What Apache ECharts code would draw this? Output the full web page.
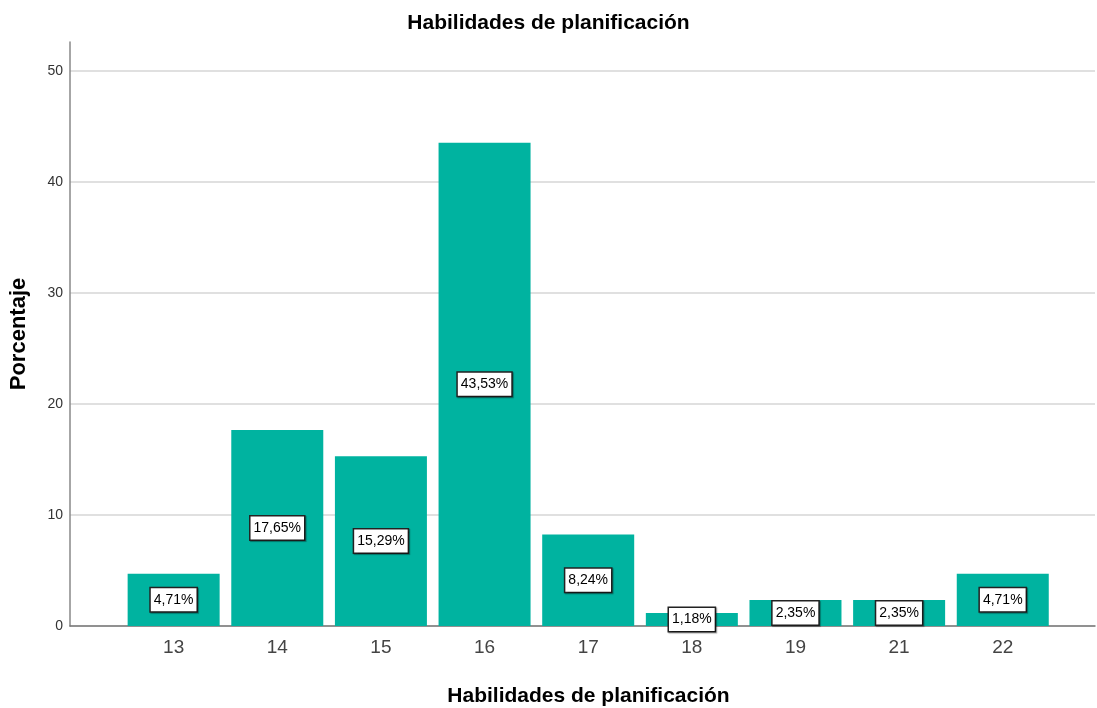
<!DOCTYPE html>
<html>
<head>
<meta charset="utf-8">
<script src="https://cdn.jsdelivr.net/npm/echarts@6/dist/echarts.min.js"></script>
<style>html,body{margin:0;padding:0;background:#fff}#c{width:1097px;height:708px}</style>
</head>
<body>
<div id="c"></div>
<script>
const categories = ['13','14','15','16','17','18','19','21','22'];
const values = [4.71, 17.65, 15.29, 43.53, 8.24, 1.18, 2.35, 2.35, 4.71];
const yTicks = [0, 10, 20, 30, 40, 50];

const chart = echarts.init(document.getElementById('c'));
const font = 'Liberation Sans, Arial, sans-serif';
const grid = '#d6d6d6';
chart.setOption({
  animation: false,
  title: {
    text: 'Habilidades de planificación',
    left: 'center', top: 13,
    padding: [0, 0, 0, 5],
    textStyle: {fontFamily: font, fontSize: 21, fontWeight: 'bold', color: '#000'}
  },
  grid: {left: 70, right: 2, top: 42, bottom: 82, outerBoundsMode: 'none', containLabel: false},
  xAxis: {
    type: 'value', min: -1, max: 8.89, interval: 1,
    name: 'Habilidades de planificación', nameLocation: 'middle', nameGap: 60,
    nameTextStyle: {fontFamily: font, fontSize: 21, fontWeight: 'bold', color: '#000', padding: [0,0,0,12]},
    axisLine: {show: true, onZero: false, lineStyle: {color: '#777', width: 1.5}},
    axisTick: {show: false},
    splitLine: {show: false},
    axisLabel: {
      margin: 12, fontFamily: font, fontSize: 19, color: '#444',
      showMaxLabel: false, showMinLabel: false,
      formatter: v => (Number.isInteger(v) && v >= 0 && v < categories.length) ? categories[v] : ''
    }
  },
  yAxis: {
    type: 'value', min: 0, max: 52.6, interval: 10,
    name: 'Porcentaje', nameLocation: 'middle', nameGap: 40,
    nameTextStyle: {fontFamily: font, fontSize: 22, fontWeight: 'bold', color: '#000'},
    axisLine: {show: true, onZero: false, lineStyle: {color: '#888', width: 1.5}},
    axisTick: {show: false},
    axisLabel: {margin: 7, fontFamily: font, fontSize: 14, color: '#333', showMaxLabel: false,
      formatter: v => yTicks.includes(v) ? String(v) : ''},
    splitLine: {show: true, lineStyle: {color: [grid, grid, grid, grid, grid, grid, 'rgba(0,0,0,0)'], width: 1.5}}
  },
  series: [{
    type: 'bar',
    barWidth: 92,
    data: categories.map((c, i) => [i, values[i]]),
    itemStyle: {color: '#00b3a0'},
    label: {
      show: true, position: 'inside',
      formatter: p => values[p.data[0]].toFixed(2).replace('.', ',') + '%',
      fontFamily: font, fontSize: 14, color: '#000',
      backgroundColor: '#fff', borderColor: '#222', borderWidth: 1.5,
      padding: [5, 3, 4, 3],
      shadowColor: 'rgba(0,0,0,0.35)', shadowOffsetX: 1, shadowOffsetY: 1, shadowBlur: 1
    }
  }]
});
</script>
</body>
</html>
